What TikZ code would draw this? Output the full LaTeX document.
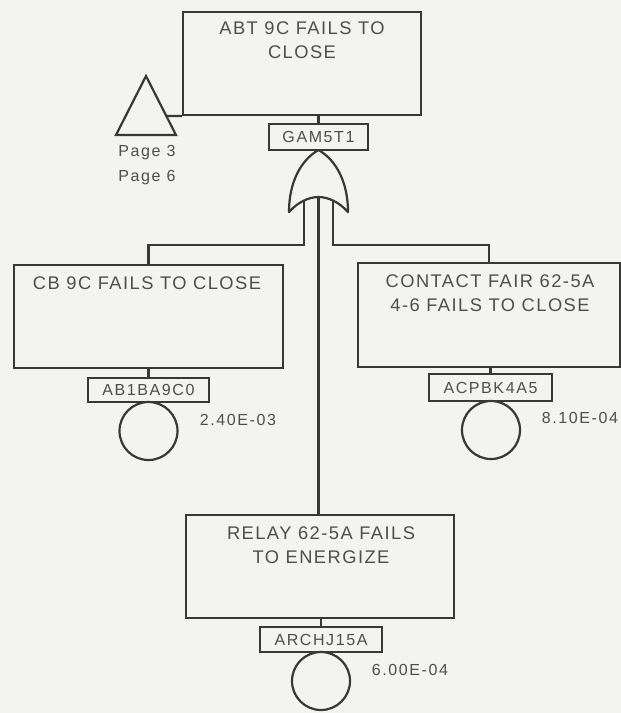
\documentclass[tikz,border=0pt]{standalone}
\usepackage{fontspec}
\setmainfont{Liberation Sans}[LetterSpace=8]
\newfontfamily\smallf{Liberation Sans}[LetterSpace=10]
\definecolor{ink}{HTML}{383838}
\definecolor{txt}{HTML}{4E4E4E}
\definecolor{bg}{HTML}{F3F3F1}
\tikzset{
  evbox/.style={draw=ink, line width=2.2pt, rectangle, inner sep=0pt},
  boxtext/.style={text=txt, font=\fontsize{18.3}{24}\selectfont, align=center, inner sep=0pt},
  tagbox/.style={draw=ink, line width=2.2pt, rectangle, inner sep=0pt, text=txt, font=\smallf\fontsize{16}{20}\selectfont},
  basic/.style={draw=ink, line width=2.2pt, circle, inner sep=0pt, minimum size=58pt},
  prob/.style={text=txt, font=\smallf\fontsize{16}{20}\selectfont, inner sep=0pt},
  wire/.style={draw=ink, line width=2.2pt},
}
\begin{document}
\begin{tikzpicture}[x=1pt,y=-1pt]
\fill[bg] (0,0) rectangle (621,713);
\useasboundingbox (0,0) rectangle (621,713);

% top event
\node[evbox, minimum width=238pt, minimum height=103pt] (top) at (302,63.5) {};
\node[boxtext] (toptxt) at (302,40) {ABT 9C FAILS TO\\CLOSE};
\node[tagbox, minimum width=99pt, minimum height=26pt] (gam) at (318.5,137) {GAM5T1};

% transfer triangle
\coordinate (ta) at (146,76);
\coordinate (tl) at (116,135);
\coordinate (tr) at (176,135);
\draw[wire, line join=miter] (ta) -- (tr) -- (tl) -- cycle;
\coordinate (tj) at (166,116);
\node[prob, align=left, font=\smallf\fontsize{16}{25}\selectfont] (pages) at (147,165.5) {Page 3\\Page 6};
\draw[wire] (tj) -- (top.south west);

% OR gate
\coordinate (gtop) at (318.5,150);
\coordinate (gl) at (304,200);
\coordinate (gm) at (318.5,197);
\coordinate (gr) at (333,200);
\draw[wire, line join=round] (gtop) .. controls (301,160) and (289,182) .. (289,212)
  .. controls (298,202) and (309,197) .. (gm)
  .. controls (328,197) and (339,202) .. (348,212)
  .. controls (348,182) and (336,160) .. (gtop);
\draw[wire] (gam.north) -- (gam.north |- top.south);

% left branch
\node[evbox, minimum width=269pt, minimum height=103pt] (cb) at (148.5,316.5) {};
\node[boxtext] (cbtxt) at (147,283) {CB 9C FAILS TO CLOSE};
\node[tagbox, minimum width=121pt, minimum height=24pt] (ab) at (148.5,390) {AB1BA9C0};
\node[basic] (abc) at (148.5,431) {};
\node[prob] (abp) at (238,420) {2.40E-03};
\draw[wire] (gl) -- (304,245) -| (cb.north);
\draw[wire] (cb.south) -- (ab.north);

% right branch
\node[evbox, minimum width=262pt, minimum height=104pt] (ct) at (489,315) {};
\node[boxtext] (cttxt) at (490,293) {CONTACT FAIR 62-5A\\4-6 FAILS TO CLOSE};
\node[tagbox, minimum width=123pt, minimum height=27pt] (ac) at (490.5,387.5) {ACPBK4A5};
\node[basic] (acc) at (491,430) {};
\node[prob] (acp) at (580,418) {8.10E-04};
\draw[wire] (gr) -- (333,245) -| (ct.north);
\draw[wire] (ac.north |- ct.south) -- (ac.north);

% middle branch
\node[evbox, minimum width=268pt, minimum height=103pt] (rl) at (320,566.5) {};
\node[boxtext] (rltxt) at (321,545) {RELAY 62-5A FAILS\\TO ENERGIZE};
\node[tagbox, minimum width=122pt, minimum height=25pt] (ar) at (321,639.5) {ARCHJ15A};
\node[basic] (arc) at (321,681) {};
\node[prob] (arp) at (410,670) {6.00E-04};
\draw[wire] (gm) -- (gm |- rl.north);
\draw[wire] (ar.north |- rl.south) -- (ar.north);
\end{tikzpicture}
\end{document}
